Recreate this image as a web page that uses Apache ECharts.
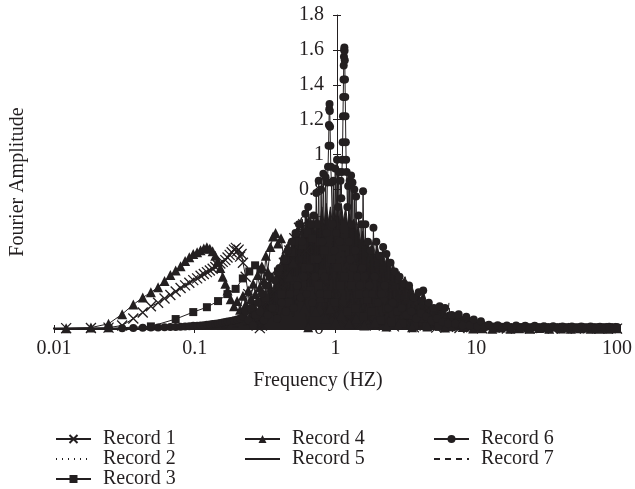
<!DOCTYPE html>
<html>
<head>
<meta charset="utf-8">
<script src="https://cdn.jsdelivr.net/npm/echarts@6/dist/echarts.min.js"></script>
<style>
  html, body { margin: 0; padding: 0; background: #ffffff; }
  #chart { width: 635px; height: 489px; }
</style>
</head>
<body>
<div id="chart"></div>
<script>
// Fourier amplitude spectra of seven ground-motion records (frequency in Hz).

const seriesNames = ['Record 1', 'Record 2', 'Record 3', 'Record 4', 'Record 5', 'Record 6', 'Record 7'];
const xTickLabels = ['0.01', '0.1', '1', '10', '100'];
const yTickLabels = ['0', '0.2', '0.4', '0.6', '0.8', '1', '1.2', '1.4', '1.6', '1.8'];

// Record 1
const freq1 = [0.0061,0.0122,0.0183,0.0244,0.0305,0.0366,0.0427,0.0488,0.0549,0.061,
  0.0671,0.0732,0.0793,0.0854,0.0915,0.0976,0.104,0.110,0.116,0.122,
  0.128,0.134,0.140,0.146,0.152,0.158,0.165,0.171,0.177,0.183,
  0.19,0.196,0.2,0.205,0.21,0.215,0.22,0.23,0.24,0.25,
  0.26,0.275,0.29,0.3,0.31,0.33,0.35,0.37,0.39,0.41,
  0.43,0.45,0.47,0.49,0.51,0.53,0.55,0.57,0.59,0.62,
  0.65,0.68,0.72,0.76,0.8,0.85,0.9,0.95,1.0,1.08,
  1.15,1.25,1.35,1.5,1.7,1.9,2.2,2.6,3.0,3.6,
  4.3,5.2,6.3,7.6,9.2,11,13.5,16.5,20,24,
  29,35,42,51,62,75,90,100];
const amp1 = [0.003,0.005,0.006,0.008,0.02,0.06,0.095,0.13,0.15,0.175,
  0.195,0.215,0.235,0.25,0.265,0.28,0.29,0.305,0.315,0.326,
  0.335,0.345,0.355,0.365,0.375,0.385,0.395,0.41,0.425,0.44,
  0.455,0.465,0.445,0.455,0.415,0.43,0.38,0.3,0.2,0.1,
  0.05,0.02,0.005,0.02,0.08,0.15,0.1,0.22,0.3,0.24,
  0.38,0.32,0.45,0.4,0.52,0.47,0.58,0.55,0.6,0.45,
  0.52,0.3,0.4,0.18,0.28,0.1,0.2,0.08,0.15,0.05,
  0.12,0.04,0.09,0.03,0.06,0.02,0.04,0.015,0.03,0.01,
  0.02,0.008,0.012,0.006,0.01,0.004,0.008,0.003,0.007,0.003,
  0.006,0.002,0.005,0.002,0.004,0.002,0.004,0.002];

// Record 2
const freq2 = [0.0061,0.05,0.1,0.15,0.2,0.25,0.3,0.33,0.37,0.41,
  0.45,0.49,0.53,0.57,0.61,0.65,0.69,0.73,0.78,0.84,
  0.9,0.97,1.05,1.13,1.21,1.3,1.4,1.5,1.62,1.75,
  1.9,2.05,2.22,2.4,2.6,2.8,3.05,3.3,3.6,3.9,
  4.25,4.6,5.0,5.45,5.9,6.4,7.0,7.6,8.3,9.0,
  10,12,15,19,25,33,45,60,80,100];
const amp2 = [0.001,0.003,0.006,0.012,0.03,0.06,0.1,0.22,0.06,0.3,
  0.1,0.38,0.12,0.45,0.15,0.5,0.2,0.55,0.18,0.6,
  0.25,0.58,0.2,0.55,0.22,0.5,0.15,0.45,0.1,0.4,
  0.12,0.36,0.08,0.3,0.1,0.26,0.05,0.21,0.04,0.16,
  0.03,0.12,0.02,0.1,0.015,0.07,0.01,0.05,0.01,0.04,
  0.008,0.025,0.005,0.012,0.003,0.008,0.002,0.005,0.002,0.003];

// Record 3
const freq3 = [0.0061,0.0244,0.0488,0.0732,0.0976,0.122,0.1464,0.1708,0.1952,0.2196,
  0.244,0.2684,0.2928,0.3172,0.3416,0.366,0.39,0.415,0.44,0.464,
  0.488,0.512,0.537,0.561,0.586,0.61,0.635,0.66,0.684,0.708,
  0.732,0.757,0.78,0.806,0.83,0.88,0.93,0.98,1.03,1.08,
  1.15,1.22,1.3,1.38,1.47,1.57,1.68,1.8,1.95,2.1,
  2.3,2.5,2.75,3.0,3.3,3.65,4.0,4.4,4.9,5.4,
  6.0,6.7,7.5,8.4,9.4,10.5,12,13.5,15.5,17.5,
  20,23,26,30,34,39,45,52,60,69,
  80,92,100];
const amp3 = [0.002,0.004,0.015,0.057,0.097,0.125,0.16,0.2,0.23,0.29,
  0.33,0.365,0.34,0.18,0.3,0.12,0.33,0.2,0.4,0.15,
  0.44,0.28,0.5,0.2,0.48,0.35,0.55,0.22,0.52,0.4,
  0.6,0.25,0.5,0.32,0.45,0.2,0.4,0.15,0.35,0.25,
  0.3,0.1,0.25,0.12,0.2,0.07,0.17,0.1,0.15,0.05,
  0.12,0.04,0.1,0.03,0.08,0.02,0.06,0.015,0.045,0.012,
  0.035,0.01,0.025,0.008,0.02,0.006,0.015,0.005,0.012,0.004,
  0.01,0.003,0.009,0.003,0.008,0.002,0.007,0.002,0.006,0.002,
  0.005,0.002,0.004];

// Record 4
const freq4 = [0.0061,0.0122,0.0183,0.0244,0.0305,0.0366,0.0427,0.0488,0.0549,0.061,
  0.0671,0.0732,0.0793,0.0854,0.0915,0.0976,0.104,0.110,0.116,0.122,
  0.128,0.134,0.140,0.146,0.152,0.158,0.165,0.171,0.18,0.19,
  0.2,0.21,0.22,0.23,0.24,0.25,0.26,0.27,0.28,0.29,
  0.3,0.31,0.32,0.33,0.345,0.36,0.375,0.39,0.41,0.43,
  0.45,0.47,0.5,0.53,0.56,0.6,0.64,0.68,0.72,0.78,
  0.85,0.92,1.0,1.1,1.25,1.4,1.6,1.9,2.3,2.8,
  3.5,4.5,6,8,9.5,11,13,15,17.5,20,
  24,28,33,40,47,55,65,75,87,100];
const amp4 = [0.003,0.005,0.008,0.03,0.085,0.14,0.18,0.21,0.24,0.275,
  0.31,0.335,0.36,0.39,0.412,0.43,0.44,0.452,0.462,0.468,
  0.46,0.445,0.42,0.39,0.35,0.30,0.26,0.22,0.17,0.13,
  0.16,0.11,0.19,0.14,0.22,0.17,0.26,0.2,0.31,0.24,
  0.36,0.28,0.42,0.33,0.47,0.53,0.55,0.49,0.52,0.4,
  0.46,0.3,0.38,0.22,0.3,0.12,0.01,0.2,0.1,0.18,
  0.06,0.12,0.04,0.08,0.03,0.06,0.02,0.04,0.015,0.025,
  0.01,0.015,0.008,0.012,0.003,0.005,0.002,0.008,0.002,0.004,
  0.001,0.006,0.001,0.003,0.001,0.005,0.001,0.002,0.001,0.004];

// Record 5 (broad-band record; its filled trace forms the core of the spectrum)
const freq5 = [0.0061,0.05,0.1,0.15,0.2,0.22,0.24,0.26,0.28,0.3,
  0.32,0.34,0.36,0.38,0.4,0.42,0.44,0.46,0.48,0.5,
  0.52,0.54,0.56,0.58,0.6,0.62,0.64,0.66,0.68,0.7,
  0.72,0.74,0.77,0.8,0.83,0.86,0.89,0.92,0.95,0.98,
  1.01,1.04,1.07,1.1,1.14,1.18,1.22,1.26,1.3,1.35,
  1.4,1.45,1.5,1.56,1.62,1.68,1.75,1.82,1.9,1.98,
  2.07,2.16,2.26,2.36,2.47,2.58,2.7,2.83,2.97,3.12,
  3.28,3.45,3.63,3.82,4.02,4.23,4.45,4.7,4.95,5.2,
  5.5,5.8,6.1,6.45,6.8,7.2,7.6,8.1,8.6,9.1,
  9.7,10.3,11,12,13,15,18,22,27,33,
  40,50,62,78,100];
const amp5 = [0.002,0.004,0.008,0.015,0.04,0.12,0.06,0.18,0.1,0.24,
  0.15,0.3,0.22,0.36,0.3,0.44,0.4,0.5,0.46,0.56,
  0.5,0.6,0.52,0.63,0.56,0.65,0.58,0.66,0.6,0.64,
  0.54,0.66,0.58,0.7,0.6,0.72,0.62,0.7,0.6,0.7,
  0.62,0.72,0.6,0.72,0.62,0.7,0.6,0.66,0.58,0.63,
  0.55,0.6,0.5,0.56,0.48,0.52,0.45,0.5,0.42,0.48,
  0.4,0.45,0.38,0.42,0.34,0.37,0.3,0.33,0.27,0.3,
  0.24,0.26,0.2,0.2,0.18,0.21,0.15,0.14,0.12,0.13,
  0.11,0.13,0.09,0.1,0.08,0.085,0.07,0.075,0.06,0.065,
  0.05,0.05,0.04,0.038,0.034,0.032,0.03,0.03,0.03,0.03,
  0.03,0.03,0.03,0.03,0.03];

// Record 6
const freq6 = [0.0305,0.0366,0.0427,0.0488,0.0549,0.061,0.0671,0.0732,0.0793,0.0854,
  0.0915,0.0976,0.104,0.11,0.116,0.122,0.128,0.134,0.14,0.146,
  0.152,0.158,0.165,0.171,0.18,0.19,0.2,0.21,0.22,0.23,
  0.24,0.25,0.26,0.27,0.28,0.29,0.3,
  0.31,0.32,0.33,0.34,0.355,0.37,0.385,0.4,0.415,0.43,
  0.445,0.46,0.475,0.49,0.505,0.52,0.535,0.55,0.565,0.58,
  0.595,0.61,0.625,0.64,0.655,0.67,0.685,0.7,0.715,0.73,
  0.745,0.76,0.775,0.79,0.805,0.82,0.835,0.85,0.865,0.875,
  0.885,0.893,0.898,0.903,0.907,0.911,0.915,0.92,0.926,0.935,
  0.95,0.965,0.98,0.995,1.01,1.025,1.04,1.055,1.07,1.085,
  1.1,1.11,1.118,1.124,1.13,1.135,1.14,1.144,1.148,1.152,
  1.156,1.16,1.164,1.168,1.173,1.178,1.184,1.19,1.2,1.215,
  1.23,1.245,1.26,1.275,1.29,1.305,1.32,1.34,1.36,1.38,
  1.4,1.43,1.46,1.49,1.52,1.55,1.57,1.6,1.63,1.66,
  1.7,1.74,1.78,1.82,1.86,1.9,1.95,2.0,2.06,2.12,
  2.18,2.24,2.3,2.38,2.46,2.55,2.64,2.74,2.85,2.96,
  3.08,3.2,3.33,3.46,3.6,3.75,3.9,4.05,4.2,4.4,
  4.6,4.8,5.0,5.25,5.5,5.75,6.0,6.3,6.7,7.1,
  7.5,8.0,8.5,9.0,9.6,10.2,10.8,11.5,12.3,13.2,
  14.2,15.3,16.5,17.8,19.2,20.7,22.3,24,26,28,
  30.2,32.6,35.2,38,41,44.3,47.8,51.6,55.7,60.1,
  64.9,70,75.6,81.6,88,95,100];
const amp6 = [0.005,0.006,0.007,0.008,0.009,0.01,0.011,0.012,0.013,0.015,
  0.016,0.018,0.019,0.02,0.022,0.024,0.026,0.028,0.03,0.032,
  0.035,0.037,0.04,0.043,0.046,0.05,0.055,0.06,0.07,0.1,
  0.05,0.12,0.02,0.08,0.15,0.1,0.2,
  0.05,0.25,0.08,0.3,0.12,0.28,0.06,0.35,0.15,0.4,
  0.1,0.45,0.2,0.5,0.12,0.55,0.25,0.6,0.18,0.5,
  0.3,0.66,0.2,0.7,0.35,0.6,0.15,0.65,0.3,0.78,
  0.4,0.85,0.2,0.8,0.5,0.89,0.3,0.87,0.55,0.84,
  0.93,1.05,1.17,1.26,1.29,1.25,1.16,1.05,0.93,0.84,
  0.6,0.85,0.45,0.92,0.55,0.97,0.7,0.9,0.5,0.85,
  0.75,0.9,0.97,1.07,1.22,1.33,1.43,1.51,1.56,1.6,
  1.613,1.595,1.54,1.43,1.33,1.22,1.07,0.97,0.9,0.7,
  0.82,0.5,0.85,0.4,0.88,0.6,0.84,0.35,0.8,0.45,
  0.76,0.3,0.65,0.25,0.6,0.35,0.79,0.3,0.6,0.2,
  0.5,0.25,0.45,0.2,0.58,0.3,0.5,0.15,0.42,0.2,
  0.47,0.25,0.43,0.12,0.38,0.15,0.33,0.1,0.3,0.12,
  0.26,0.08,0.25,0.1,0.18,0.06,0.21,0.09,0.22,0.07,
  0.15,0.05,0.12,0.06,0.13,0.04,0.12,0.03,0.08,0.03,
  0.085,0.02,0.07,0.02,0.055,0.015,0.045,0.01,0.025,0.008,
  0.022,0.006,0.02,0.005,0.02,0.004,0.018,0.004,0.018,0.003,
  0.016,0.003,0.016,0.002,0.015,0.002,0.015,0.002,0.014,0.002,
  0.014,0.002,0.013,0.002,0.013,0.002,0.012];

// Record 7
const freq7 = [0.0061,0.1,0.2,0.3,0.35,0.4,0.45,0.5,0.55,0.6,
  0.66,0.72,0.79,0.87,0.96,1.06,1.17,1.28,1.4,1.54,
  1.69,1.85,2.03,2.23,2.45,2.7,2.95,3.25,3.55,3.9,
  4.3,4.7,5.2,5.7,6.2,6.4,6.55,7.1,7.8,8.6,
  9.5,10.5,12,14,17,21,27,35,50,70,
  100];
const amp7 = [0.001,0.004,0.01,0.05,0.18,0.04,0.25,0.06,0.32,0.1,
  0.4,0.08,0.45,0.12,0.5,0.1,0.45,0.15,0.4,0.06,
  0.35,0.1,0.3,0.05,0.26,0.08,0.22,0.04,0.18,0.03,
  0.14,0.02,0.1,0.02,0.04,0.15,0.03,0.06,0.01,0.09,
  0.008,0.03,0.005,0.015,0.003,0.008,0.002,0.005,0.002,0.004,
  0.002];

const INK = '#231f20';
const FONT = 'Liberation Serif';

function pairs(f, a) {
  return f.map((x, i) => [x, a[i]]);
}

function record(name, f, a, opts) {
  return Object.assign({
    name: name,
    type: 'line',
    data: pairs(f, a),
    showAllSymbol: true,
    clip: true,
    silent: true,
    animation: false,
    lineStyle: { color: INK, width: 1 },
    itemStyle: { color: INK, borderColor: INK, borderWidth: 0 },
    emphasis: { disabled: true }
  }, opts);
}

const series = [
  record(seriesNames[0], freq1, amp1, {
    symbol: 'path://M0,0L10,10M10,0L0,10', symbolSize: 10,
    itemStyle: { color: INK, borderColor: INK, borderWidth: 1.3 }
  }),
  record(seriesNames[1], freq2, amp2, {
    symbol: 'none', lineStyle: { color: INK, width: 1, type: [1, 5] }
  }),
  record(seriesNames[2], freq3, amp3, { symbol: 'rect', symbolSize: 8 }),
  record(seriesNames[3], freq4, amp4, { symbol: 'triangle', symbolSize: 10 }),
  record(seriesNames[4], freq5, amp5, {
    symbol: 'none', areaStyle: { color: INK, opacity: 1, origin: 'start' }
  }),
  record(seriesNames[5], freq6, amp6, { symbol: 'circle', symbolSize: 8 }),
  record(seriesNames[6], freq7, amp7, {
    symbol: 'none', lineStyle: { color: INK, width: 1, type: [6, 5] }
  })
];

// Line-only records show a bare line in the legend
const noMarker = { itemStyle: { opacity: 0 } };
const legendBase = {
  orient: 'vertical',
  top: 429,
  padding: 0,
  itemWidth: 35,
  itemHeight: 10,
  itemGap: 0,
  selectedMode: false,
  textStyle: { color: INK, fontFamily: FONT, fontSize: 20, lineHeight: 19.5, padding: [0, 0, 0, 7] }
};

const chart = echarts.init(document.getElementById('chart'), null, { renderer: 'canvas' });

chart.setOption({
  animation: false,
  backgroundColor: '#ffffff',
  textStyle: { fontFamily: FONT },
  grid: { left: 54, right: 15, top: 15, bottom: 160, containLabel: false },
  xAxis: [
    {
      type: 'log', logBase: 10, min: 0.01, max: 100, position: 'bottom',
      axisLine: { show: true, onZero: false, lineStyle: { color: INK, width: 1 } },
      axisTick: { show: true, length: 4, lineStyle: { color: INK, width: 1 } },
      axisLabel: {
        color: INK, fontFamily: FONT, fontSize: 20, margin: 10,
        formatter: (v) => xTickLabels[Math.round(Math.log10(v)) + 2]
      },
      splitLine: { show: false }, minorTick: { show: false }
    },
    {
      type: 'log', logBase: 10, min: 0.01, max: 100, position: 'bottom',
      axisLine: { show: false },
      axisTick: { show: true, inside: true, length: 4, lineStyle: { color: INK, width: 1 } },
      axisLabel: { show: false },
      splitLine: { show: false }
    }
  ],
  yAxis: [
    {
      type: 'value', min: 0, max: 1.8, interval: 0.2, position: 'left', offset: -283,
      axisLine: { show: true, onZero: false, lineStyle: { color: INK, width: 1 } },
      axisTick: { show: true, length: 4, lineStyle: { color: INK, width: 1 } },
      axisLabel: {
        color: INK, fontFamily: FONT, fontSize: 20, margin: 13,
        formatter: (v) => yTickLabels[Math.round(v / 0.2)]
      },
      splitLine: { show: false }
    },
    {
      type: 'value', min: 0, max: 1.8, interval: 0.2, position: 'left', offset: -283,
      axisLine: { show: false },
      axisTick: { show: true, inside: true, length: 4, lineStyle: { color: INK, width: 1 } },
      axisLabel: { show: false },
      splitLine: { show: false }
    }
  ],
  legend: [
    Object.assign({ left: 55, data: [seriesNames[0], Object.assign({ name: seriesNames[1] }, noMarker), seriesNames[2]] }, legendBase),
    Object.assign({ left: 244, data: [seriesNames[3], Object.assign({ name: seriesNames[4] }, noMarker)] }, legendBase),
    Object.assign({ left: 433, data: [seriesNames[5], Object.assign({ name: seriesNames[6] }, noMarker)] }, legendBase)
  ],
  graphic: [
    {
      type: 'text', x: 318, y: 381, silent: true,
      style: { text: 'Frequency (HZ)', fill: INK, font: '20px "Liberation Serif"', align: 'center', verticalAlign: 'middle' }
    },
    {
      type: 'text', x: 18, y: 182, rotation: Math.PI / 2, silent: true,
      style: { text: 'Fourier Amplitude', fill: INK, font: '20px "Liberation Serif"', align: 'center', verticalAlign: 'middle' }
    }
  ],
  series: series
});
</script>
</body>
</html>
